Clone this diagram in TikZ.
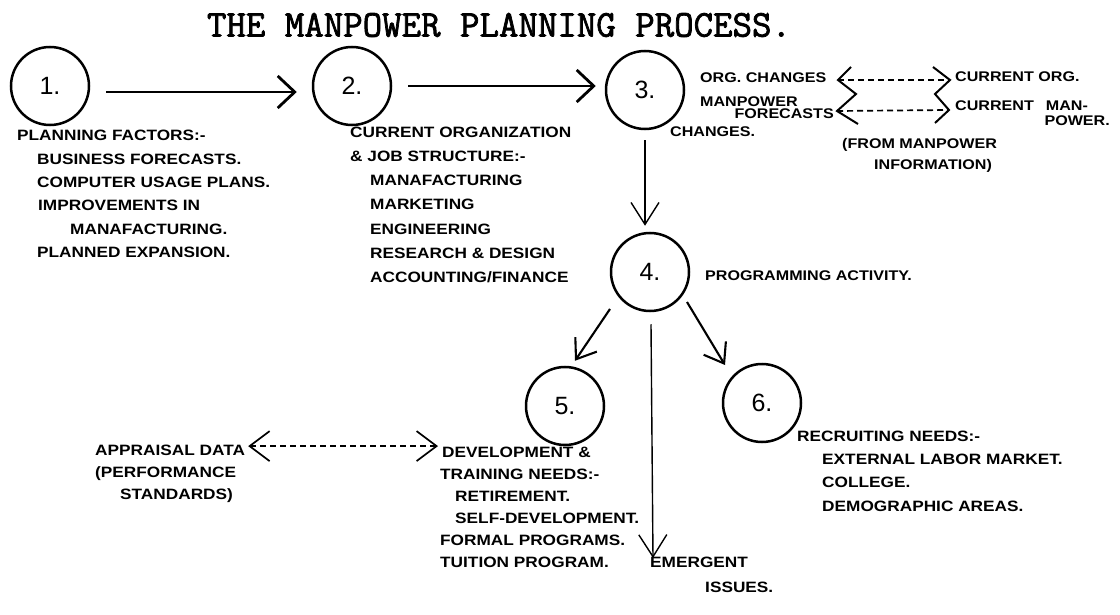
\documentclass[tikz,border=0pt]{standalone}
\usepackage{fontspec}
\setmainfont{Liberation Sans}
\newfontfamily\handfont[FakeStretch=1.15]{Liberation Sans}
\newfontfamily\titlefont[FakeBold=2]{Latin Modern Mono}
\usetikzlibrary{arrows.meta,calc}
\begin{document}
\begin{tikzpicture}[x=1pt,y=-1pt,
  stage/.style={draw,circle,line width=2.5pt,minimum size=78pt,inner sep=0pt,font=\fontsize{25}{25}\selectfont},
  hand/.style n args={2}{anchor=north west,inner sep=0pt,align=left,font=\handfont\bfseries\fontsize{#1}{#2}\selectfont},
  flow/.style={line width=2.8pt,-{Straight Barb[length=17pt,width=32pt]}},
  thinflow/.style={line width=1.4pt,-{Straight Barb[length=22pt,width=28pt]}},
  midflow/.style={line width=2.1pt,-{Straight Barb[length=18pt,width=26pt]}},
  link/.style={line width=1.7pt,dash pattern=on 6pt off 4pt},
  brace/.style={line width=2pt,line join=miter},
]
\fill[white] (0,0) rectangle (1120,615);
\useasboundingbox (0,0) rectangle (1120,615);

% title
\node[font=\titlefont\fontsize{37.8}{37.8}\selectfont] (title) at (499,25) {THE MANPOWER PLANNING PROCESS.};

% stages
\node[stage] (c1) at (50,86) {1.};
\node[stage] (c2) at (352,86) {2.};
\node[stage] (c3) at (645,90) {3.};
\node[stage] (c4) at (650,272) {4.};
\node[stage] (c5) at (565,406) {5.};
\node[stage] (c6) at (762,403) {6.};

% main flow
\draw[flow] ($(c1.east)+(16,6)$) -- ($(c2.west)+(-15,6)$);
\draw[flow] ($(c2.east)+(16,0)$) -- ($(c3.west)+(-9,-4)$);
\draw[thinflow] ($(c3.south)+(0,10)$) -- ($(c4.north)+(-5,-6)$);
\draw[midflow] ($(c4)+(-40,37)$) -- ($(c5.north)+(10,-5)$);
\draw[midflow] ($(c4)+(37,30)$) -- ($(c6)+(-37,-38)$);
\coordinate (emtip) at (653,558);
\draw[thinflow] ($(c4.south)+(1,12)$) -- (emtip);

% block 1
\node[hand={15}{23.4}] (b1) at (17,130) {PLANNING FACTORS:-\\
\hspace*{20pt}BUSINESS FORECASTS.\\
\hspace*{20pt}COMPUTER USAGE PLANS.\\
\hspace*{21pt}IMPROVEMENTS IN\\
\hspace*{53pt}MANAFACTURING.\\
\hspace*{20pt}PLANNED EXPANSION.};

% block 2
\node[hand={15}{24.2}] (b2) at (350,126.6) {CURRENT ORGANIZATION\\
\& JOB STRUCTURE:-\\
\hspace*{20pt}MANAFACTURING\\
\hspace*{20pt}MARKETING\\
\hspace*{20pt}ENGINEERING\\
\hspace*{20pt}RESEARCH \& DESIGN\\
\hspace*{20pt}ACCOUNTING/FINANCE};

% block 3
\node[hand={14}{24}] (b3a) at (700,72.5) {ORG. CHANGES\\MANPOWER};
\node[hand={14}{23}, anchor=north east] (b3b) at (834,108.5) {FORECASTS};
\node[hand={14}{23}] (b3c) at (670,126.5) {CHANGES.};
\node[hand={14}{29}] (b3r) at (955,72) {CURRENT ORG.\\CURRENT\hspace{12pt}MAN-};
\node[hand={14}{20}, anchor=north east] (b3p) at (1110,116) {POWER.};
\node[hand={14}{21}] (from) at (842,138) {(FROM MANPOWER\\\hspace*{32pt}INFORMATION)};

\coordinate (lb1) at (851,67);
\coordinate (lv1) at (838,80);
\coordinate (lb2) at (856,94);
\coordinate (lv2) at (837,111);
\coordinate (lb3) at (858,124);
\coordinate (rb1) at (933,67);
\coordinate (rv1) at (950,80);
\coordinate (rb2) at (935,94);
\coordinate (rv2) at (949,110);
\coordinate (rb3) at (935,123);
\draw[brace] (lb1) -- (lv1) -- (lb2) -- (lv2) -- (lb3);
\draw[brace] (rb1) -- (rv1) -- (rb2) -- (rv2) -- (rb3);
\draw[link] (lv1) -- (rv1);
\draw[link] (lv2) -- (rv2);

% block 4
\node[hand={14}{14}] (b4) at (705,271) {PROGRAMMING ACTIVITY.};

% block 5
\node[hand={15}{22}] (dev1) at (442,446.6) {DEVELOPMENT \&};
\node[hand={15}{22}] (dev2) at (440,468.6) {TRAINING NEEDS:-\\
\hspace*{15pt}RETIREMENT.\\
\hspace*{15pt}SELF-DEVELOPMENT.\\
FORMAL PROGRAMS.\\
TUITION PROGRAM.};
\node[hand={15}{22}] (app1) at (95,444.6) {APPRAISAL DATA};
\node[hand={15}{22}] (app2) at (95,466.6) {(PERFORMANCE\\\hspace*{25pt}STANDARDS)};
\draw[link,{Straight Barb[length=20pt,width=30pt]}-{Straight Barb[length=20pt,width=30pt]}] ($(app1.east)+(3,-4)$) -- ($(dev1.west)+(-4,-6)$);

% block 6
\node[hand={15}{23.3}] (b6) at (797,430.6) {RECRUITING NEEDS:-\\
\hspace*{25pt}EXTERNAL LABOR MARKET.\\
\hspace*{25pt}COLLEGE.\\
\hspace*{25pt}DEMOGRAPHIC AREAS.};

% emergent issues
\node[hand={15}{25}] (em) at (650,556.6) {EMERGENT\\\hspace*{55pt}ISSUES.};
\end{tikzpicture}
\end{document}
